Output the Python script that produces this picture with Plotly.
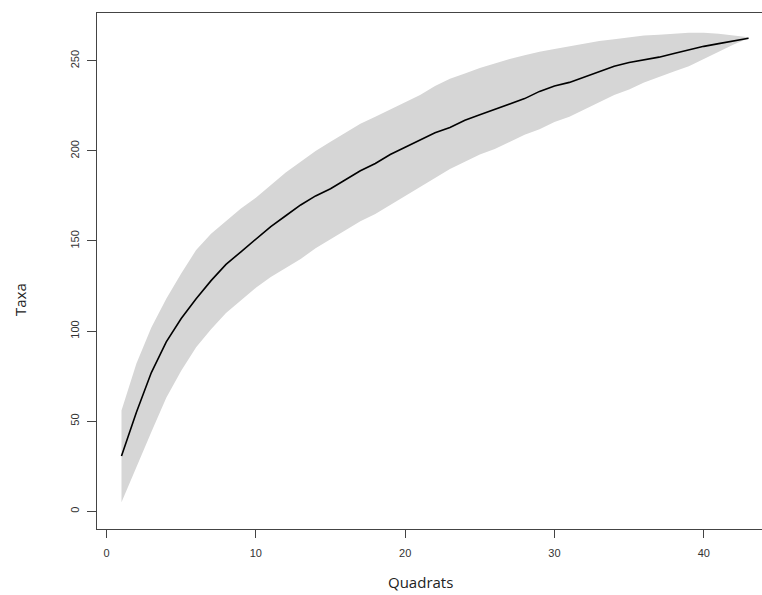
import plotly.graph_objects as go

quadrats = list(range(1, 44))
taxa_mean = [30.7, 55, 77, 94, 107, 118, 128, 137, 144, 151,
             158, 164, 170, 175, 179, 184, 189, 193, 198, 202,
             206, 210, 213, 217, 220, 223, 226, 229, 233, 236,
             238, 241, 244, 247, 249, 250.5, 252, 254, 256, 258,
             259.5, 261, 262.5]
taxa_upper = [56, 82, 102, 118, 132, 145, 154, 161, 168, 174,
              181, 188, 194, 200, 205, 210, 215, 219, 223, 227,
              231, 236, 240, 243, 246, 248.5, 251, 253, 255, 256.5,
              258, 259.5, 261, 262, 263, 264, 264.5, 265, 265.5, 265.5,
              265, 264, 263]
taxa_lower = [5, 24, 44, 63, 78, 91, 101, 110, 117, 124,
              130, 135, 140, 146, 151, 156, 161, 165, 170, 175,
              180, 185, 190, 194, 198, 201, 205, 209, 212, 216,
              219, 223, 227, 231, 234, 238, 241, 244, 247, 251,
              255, 259, 262.5]
x_ticks = [0, 10, 20, 30, 40]
y_ticks = [0, 50, 100, 150, 200, 250]

fig = go.Figure()
fig.add_trace(go.Scatter(
    x=quadrats + quadrats[::-1],
    y=taxa_upper + taxa_lower[::-1],
    fill="toself", fillcolor="#d6d6d6",
    line=dict(width=0, color="#d6d6d6"),
    mode="lines", hoverinfo="skip", showlegend=False))
fig.add_trace(go.Scatter(
    x=quadrats, y=taxa_mean, mode="lines",
    line=dict(color="black", width=1.6), showlegend=False))

axis_font = dict(family="Liberation Sans, Arial, sans-serif", size=11, color="#333333")
fig.update_layout(
    width=762, height=595,
    margin=dict(l=97, r=0, t=13, b=66, autoexpand=False),
    paper_bgcolor="white", plot_bgcolor="white",
    xaxis=dict(range=[-0.64, 43.9], tickvals=x_ticks, ticks="outside", ticklen=8,
               tickcolor="#444444", tickwidth=1, showline=True, linecolor="#444444",
               linewidth=1, mirror=True, showgrid=False, zeroline=False,
               tickfont=axis_font, ticklabelstandoff=6, automargin=False),
    yaxis=dict(range=[-9.8, 276.5], tickvals=y_ticks, ticks="outside", ticklen=9,
               tickcolor="#444444", tickwidth=1, showline=True, linecolor="#444444",
               linewidth=1, mirror=False, showgrid=False, zeroline=False,
               tickangle=-90, tickfont=axis_font, ticklabelstandoff=4, automargin=False),
    annotations=[
        dict(text="Quadrats", x=420, y=582, xref="paper", yref="paper",
             showarrow=False, font=dict(family="Open Sans, sans-serif", size=15, color="#222222")),
        dict(text="Taxa", x=20, y=300, xref="paper", yref="paper", textangle=-90,
             showarrow=False, font=dict(family="Open Sans, sans-serif", size=15, color="#222222")),
    ],
)
# convert pixel positions of titles to paper coords
pw = 762 - 97 - 0
ph = 595 - 13 - 66
for ann in fig.layout.annotations:
    ann.x = (ann.x - 97) / pw
    ann.y = (595 - 66 - ann.y) / ph
    ann.xanchor = "center"
    ann.yanchor = "middle"

fig.write_html("out.html", config={"displayModeBar": False},
               post_script="document.body.style.margin='0';document.body.style.overflow='hidden';")
